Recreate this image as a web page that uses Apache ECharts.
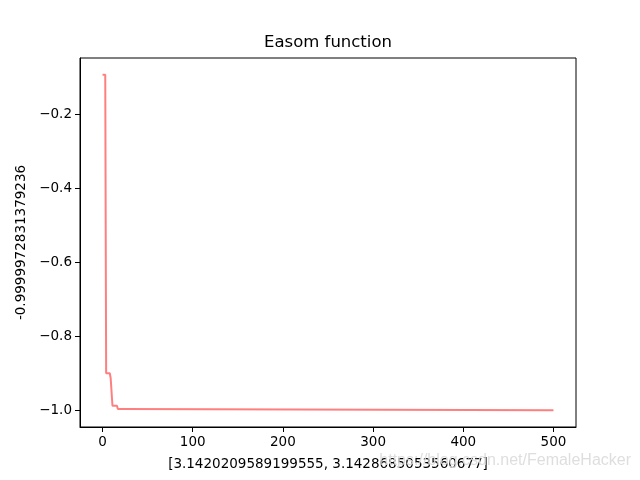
<!DOCTYPE html>
<html>
<head>
<meta charset="utf-8">
<script src="https://cdn.jsdelivr.net/npm/echarts@6/dist/echarts.min.js"></script>
<style>
  html, body { margin: 0; padding: 0; background: #fff; }
  #chart { width: 640px; height: 480px; }
</style>
</head>
<body>
<div id="chart"></div>
<script>
// iteration -> best fitness (step changes only)
const iterations = [0, 3, 4, 8, 9, 10, 11, 16, 17, 24, 25, 500]
const fitness = [-0.0935, -0.0935, -0.9, -0.9, -0.913, -0.913, -0.988, -0.988, -0.997, -0.997, -1.0, -1.0]
const xTicks = [0, 100, 200, 300, 400, 500]
const yTicks = [-1.0, -0.8, -0.6, -0.4, -0.2]

const titleText = 'Easom function'
const xName = '[3.1420209589199555, 3.1428685053560677]'
const yName = '-0.9999972831379236'
const watermark = 'https://blog.csdn.net/FemaleHacker'

const FONT = 'DejaVu Sans'
const fmtY = v => v.toFixed(1).replace('-', '\u2212')

const chart = echarts.init(document.getElementById('chart'), null, { renderer: 'canvas' })

const option = {
  animation: false,
  backgroundColor: '#ffffff',
  grid: {
    left: 80,
    right: 64,
    top: 58,
    bottom: 53,
    show: true,
    borderColor: '#000',
    borderWidth: 1,
    containLabel: false
  },
  xAxis: {
    type: 'value',
    min: -25,
    max: 525,
    name: xName,
    nameLocation: 'middle',
    nameGap: 30,
    nameTextStyle: { fontFamily: FONT, fontSize: 13.5, color: '#000' },
    axisLine: { show: true, onZero: false, lineStyle: { color: '#000', width: 1 } },
    axisTick: { show: true, length: 5, customValues: xTicks, lineStyle: { color: '#000' } },
    axisLabel: { customValues: xTicks, fontFamily: FONT, fontSize: 13.5, color: '#000', margin: 8 },
    splitLine: { show: false }
  },
  yAxis: {
    type: 'value',
    min: -1.0454,
    max: -0.0481,
    name: yName,
    nameLocation: 'middle',
    nameGap: 52,
    nameRotate: 90,
    nameTextStyle: { fontFamily: FONT, fontSize: 13.5, color: '#000' },
    axisLine: { show: true, onZero: false, lineStyle: { color: '#000', width: 1 } },
    axisTick: { show: true, length: 5, customValues: yTicks, lineStyle: { color: '#000' } },
    axisLabel: {
      customValues: yTicks,
      fontFamily: FONT,
      fontSize: 13.5,
      color: '#000',
      margin: 8,
      formatter: v => fmtY(v)
    },
    splitLine: { show: false }
  },
  series: [
    {
      type: 'line',
      data: iterations.map((it, i) => [it, fitness[i]]),
      showSymbol: false,
      symbol: 'none',
      lineStyle: { color: 'rgba(255,0,0,0.5)', width: 2 },
      z: 3
    }
  ],
  graphic: [
    {
      type: 'text',
      x: 328,
      y: 43,
      z: 100,
      style: {
        text: titleText,
        fontFamily: FONT,
        fontSize: 16.5,
        fill: '#000',
        align: 'center',
        verticalAlign: 'middle'
      }
    },
    {
      type: 'text',
      right: 9,
      top: 453,
      z: 100,
      style: {
        text: watermark,
        fontFamily: 'Liberation Sans',
        fontSize: 16,
        fill: 'rgba(218,218,218,0.9)'
      }
    }
  ]
}

chart.setOption(option)

window.addEventListener('resize', () => chart.resize())
</script>
</body>
</html>
